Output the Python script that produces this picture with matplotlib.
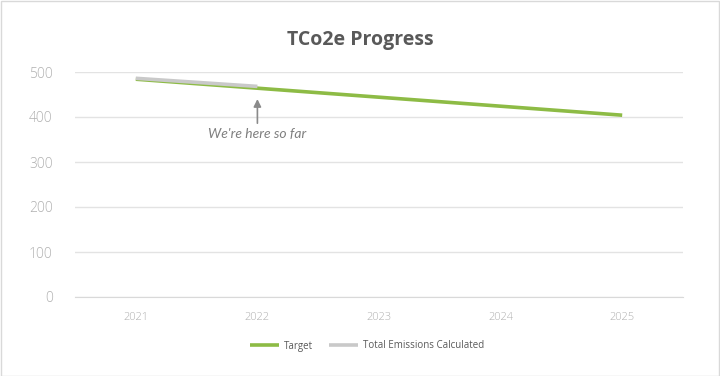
import matplotlib
matplotlib.use("Agg")
import matplotlib.pyplot as plt
from matplotlib.patches import Rectangle

years = ["2021", "2022", "2023", "2024", "2025"]
target = [484, 464, 444, 424, 404]
total_years = ["2021", "2022"]
total_emissions = [486, 468]
y_ticks = [0, 100, 200, 300, 400, 500]

W, H = 720, 376
fig = plt.figure(figsize=(W / 100, H / 100), dpi=100)
fig.patch.set_facecolor("white")
ax = fig.add_axes([75 / W, 1 - 297 / H, (683 - 75) / W, (297 - 72) / H])

x = list(range(len(years)))
ax.plot(x, target, color="#8dbb45", lw=2.6, label="Target", solid_capstyle="butt", zorder=3)
xt = [years.index(y) for y in total_years]
ax.plot(xt, total_emissions, color="#c9c9c9", lw=2.6, label="Total Emissions Calculated",
        solid_capstyle="butt", zorder=4)

ax.set_xlim(-0.5, len(years) - 0.5)
ax.set_ylim(0, 500)
ax.set_yticks(y_ticks)
ax.set_xticks(x)
ax.set_xticklabels(years)
ax.grid(axis="y", color="#e3e3e3", lw=1)
ax.set_axisbelow(True)
for s in ["top", "right", "left"]:
    ax.spines[s].set_visible(False)
ax.spines["bottom"].set_color("#d9d9d9")
ax.tick_params(axis="both", length=0, colors="#b0b0b0")
ax.tick_params(axis="y", labelsize=10, pad=16)
ax.tick_params(axis="x", labelsize=8, pad=11)
for lbl in ax.get_yticklabels() + ax.get_xticklabels():
    lbl.set_fontfamily("Open Sans")
    lbl.set_fontweight("light")

ax.annotate("", xy=(1, 446), xytext=(1, 380),
            arrowprops=dict(arrowstyle="-|>", color="#8a8a8a", lw=1.2, mutation_scale=11))
ax.text(1, 362, "We're here so far", ha="center", va="center", fontsize=10,
        style="italic", color="#7f7f7f", family="Lato")

fig.text(0.5, 1 - 40 / H, "TCo2e Progress", ha="center", va="center", fontsize=14,
         fontweight="bold", color="#595959", family="Open Sans")

leg = fig.legend(loc="center", bbox_to_anchor=(367 / W, 1 - 346 / H), ncol=2, frameon=False,
                 handlelength=3.0, columnspacing=1.6, handletextpad=0.5,
                 prop={"family": "Open Sans", "size": 7})
for t in leg.get_texts():
    t.set_color("#595959")

fig.patches.append(Rectangle((0.5 / W, 0.5 / H), 1 - 1.5 / W, 1 - 1.5 / H, transform=fig.transFigure,
                             fill=False, edgecolor="#d9d9d9", lw=1))

fig.savefig("out.png", dpi=100)
